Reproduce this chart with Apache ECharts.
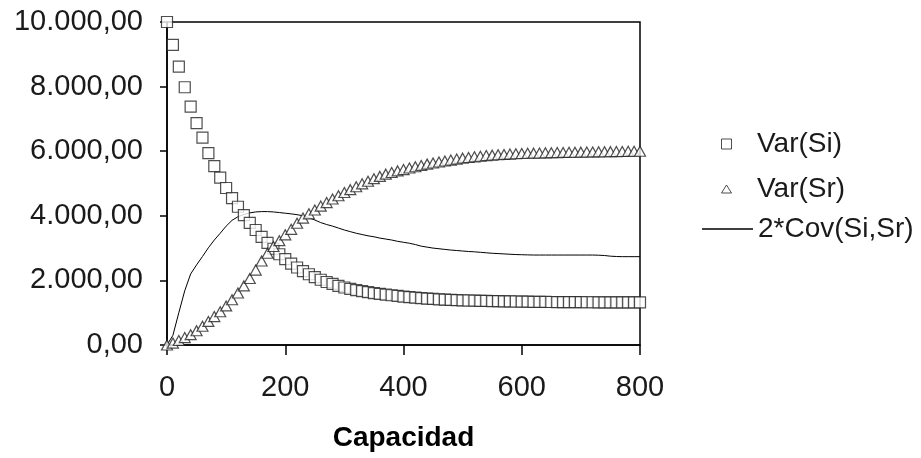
<!DOCTYPE html>
<html>
<head>
<meta charset="utf-8">
<script src="https://cdn.jsdelivr.net/npm/echarts@6/dist/echarts.min.js"></script>
<style>
html,body{margin:0;padding:0;background:#fff;}
#c{width:921px;height:458px;}
</style>
</head>
<body>
<div id="c"></div>
<script>
const capacidad = [0,10,20,30,40,50,60,70,80,90,100,110,120,130,140,150,160,170,180,190,200,210,220,230,240,250,260,270,280,290,300,310,320,330,340,350,360,370,380,390,400,410,420,430,440,450,460,470,480,490,500,510,520,530,540,550,560,570,580,590,600,610,620,630,640,650,660,670,680,690,700,710,720,730,740,750,760,770,780,790,800];

const varSi = [10000,9290,8620,7980,7380,6870,6420,5940,5540,5180,4860,4550,4280,4020,3780,3560,3350,3160,2980,2810,2660,2520,2400,2290,2190,2100,2020,1950,1890,1830,1780,1740,1700,1665,1635,1605,1580,1560,1540,1520,1500,1480,1465,1450,1438,1426,1415,1405,1397,1390,1384,1378,1373,1368,1364,1360,1356,1352,1349,1346,1343,1340,1338,1336,1334,1332,1330,1328,1327,1326,1325,1324,1323,1322,1321,1320,1320,1319,1318,1318,1317];

const varSr = [0,60,140,230,320,440,580,730,880,1030,1210,1400,1610,1830,2060,2320,2600,2840,3050,3230,3410,3580,3770,3930,4060,4180,4300,4410,4520,4620,4720,4810,4900,4990,5070,5150,5220,5290,5340,5390,5430,5480,5520,5560,5600,5635,5665,5695,5725,5755,5785,5805,5825,5845,5865,5878,5890,5900,5910,5920,5930,5935,5940,5945,5950,5954,5958,5962,5965,5968,5971,5974,5977,5980,5983,5986,5989,5992,5995,5997,6000];

const cov2 = [0,300,1000,1680,2200,2480,2740,3010,3250,3460,3680,3860,3970,4040,4090,4120,4130,4130,4120,4100,4080,4060,4035,4000,3940,3870,3790,3730,3680,3620,3560,3510,3460,3420,3380,3350,3310,3280,3250,3210,3180,3150,3110,3060,3030,3000,2980,2960,2940,2925,2910,2895,2885,2870,2855,2840,2830,2820,2810,2800,2795,2790,2785,2785,2785,2785,2785,2785,2785,2785,2785,2785,2785,2780,2770,2750,2740,2735,2735,2735,2735];

const seriesNames = ['Var(Si)','Var(Sr)','2*Cov(Si,Sr)'];
const xTicks = {min:0, max:800, interval:200};
const yTicks = {min:0, max:10000, interval:2000};

function pairs(ys){ return capacidad.map((x,i)=>[x, ys[i]]); }
function fmtEs(v){
  const s = Math.round(v).toString().replace(/\B(?=(\d{3})+(?!\d))/g,'.');
  return s + ',00';
}

const FONT = 'Liberation Sans, Arial, sans-serif';
const TXT = '#1a1a1a';

const chart = echarts.init(document.getElementById('c'), null, {renderer:'canvas'});

const legendBase = {
  orient:'vertical', padding:0, itemWidth:51, selectedMode:false,
  textStyle:{fontSize:28, fontFamily:FONT, color:TXT}
};

chart.setOption({
  animation:false,
  backgroundColor:'#fff',
  grid:{left:167, top:22, right:281, bottom:113, show:true, borderColor:'#000', borderWidth:1.5, backgroundColor:'transparent'},
  legend:[
    Object.assign({}, legendBase, {left:721, top:130, itemHeight:10,
      data:[{name:seriesNames[0], icon:'path://M0,0H10V10H0Z', itemStyle:{color:'#fff', borderColor:'#222', borderWidth:1}}]}),
    Object.assign({}, legendBase, {left:721, top:175, itemHeight:8,
      data:[{name:seriesNames[1], icon:'path://M5,0L10,8H0Z', itemStyle:{color:'#fff', borderColor:'#222', borderWidth:1}}]}),
    Object.assign({}, legendBase, {left:702, top:215, itemHeight:10,
      data:[{name:seriesNames[2], icon:'path://M0,0H51V1.3H0Z', itemStyle:{color:'#000', borderWidth:0}}]})
  ],
  xAxis:{
    type:'value', min:xTicks.min, max:xTicks.max, interval:xTicks.interval,
    name:'Capacidad', nameLocation:'middle', nameGap:79,
    nameTextStyle:{fontSize:28, fontWeight:'bold', fontFamily:FONT, color:'#000'},
    axisLine:{show:true, lineStyle:{color:'#000', width:1.5}},
    axisTick:{show:true, length:10, lineStyle:{color:'#000', width:1.5}},
    axisLabel:{fontSize:29, fontFamily:FONT, color:TXT, margin:28},
    splitLine:{show:false}
  },
  yAxis:{
    type:'value', min:yTicks.min, max:yTicks.max, interval:yTicks.interval,
    axisLine:{show:true, lineStyle:{color:'#000', width:1.5}},
    axisTick:{show:true, length:7, lineStyle:{color:'#000', width:1.5}},
    axisLabel:{fontSize:29, fontFamily:FONT, color:TXT, margin:24, formatter:fmtEs},
    splitLine:{show:false}
  },
  series:[
    {name:seriesNames[0], type:'scatter', data:pairs(varSi), symbol:'rect', symbolSize:11,
      itemStyle:{color:'#fff', borderColor:'#222', borderWidth:1.2}, z:3},
    {name:seriesNames[1], type:'scatter', data:pairs(varSr), symbol:'triangle', symbolSize:[11,10],
      itemStyle:{color:'#fff', borderColor:'#222', borderWidth:1.2}, z:3},
    {name:seriesNames[2], type:'line', data:pairs(cov2), showSymbol:false, symbol:'none',
      lineStyle:{color:'#000', width:1}, itemStyle:{color:'#000'}, z:2}
  ]
});
</script>
</body>
</html>
